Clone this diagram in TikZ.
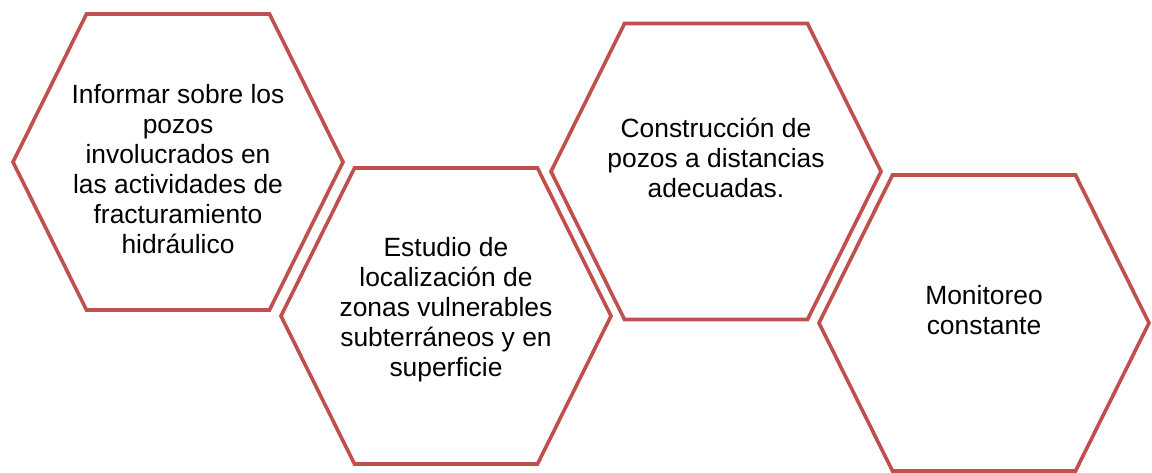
\documentclass[tikz,border=0pt]{standalone}
\usepackage{fontspec}
\setmainfont{Liberation Sans}
\definecolor{hexred}{HTML}{C0504D}
\begin{document}
\begin{tikzpicture}[x=1pt,y=-1pt,
  hexline/.style={draw=hexred,line width=3.6pt,line join=miter},
  hextext/.style={align=center,inner sep=0pt,font=\fontsize{26.4}{30}\selectfont}]
\useasboundingbox (0,0) rectangle (1152,472);
\newcommand{\hexshape}[2]{%
  \draw[hexline] (#1-91.5,#2-148) -- (#1+91.5,#2-148) -- (#1+165,#2) -- (#1+91.5,#2+148) -- (#1-91.5,#2+148) -- (#1-165,#2) -- cycle;}
\hexshape{178}{162}
\hexshape{446}{316}
\hexshape{716}{171.5}
\hexshape{984}{323}
\node[hextext] (h1) at (178,169) {Informar sobre los\\pozos\\involucrados en\\las actividades de\\fracturamiento\\hidráulico};
\node[hextext] (h2) at (446,310) {Estudio de\\localización de\\zonas vulnerables\\subterráneos y en\\superficie};
\node[hextext] (h3) at (716,158) {Construcción de\\pozos a distancias\\adecuadas.};
\node[hextext] (h4) at (984,310) {Monitoreo\\constante};
\end{tikzpicture}
\end{document}
